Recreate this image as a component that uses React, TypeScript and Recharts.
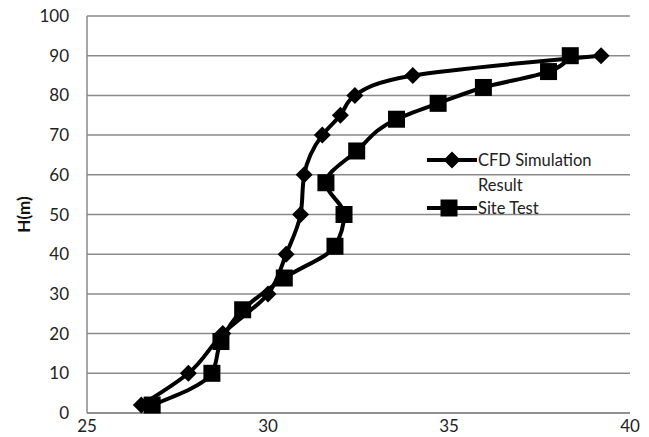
import { ScatterChart, Scatter, XAxis, YAxis, CartesianGrid } from 'recharts';

const cfdTemp = [26.5, 27.8, 28.75, 30.0, 30.5, 30.9, 31.0, 31.5, 32.0, 32.4, 34.0, 39.2];
const cfdHeight = [2, 10, 20, 30, 40, 50, 60, 70, 75, 80, 85, 90];
const siteTemp = [26.8, 28.45, 28.7, 29.3, 30.45, 31.85, 32.1, 31.6, 32.45, 33.55, 34.7, 35.95, 37.75, 38.35];
const siteHeight = [2, 10, 18, 26, 34, 42, 50, 58, 66, 74, 78, 82, 86, 90];
const xTicks = [25, 30, 35, 40];
const yTicks = [0, 10, 20, 30, 40, 50, 60, 70, 80, 90, 100];

const cfdData = cfdTemp.map((t, i) => ({ t, h: cfdHeight[i] }));
const siteData = siteTemp.map((t, i) => ({ t, h: siteHeight[i] }));

const FONT = 'Lato, "Open Sans", sans-serif';
const GRID = '#8a8a8a';

const Diamond = (props: any) => {
  const { cx, cy } = props;
  const r = 8.5;
  return <polygon points={`${cx},${cy - r} ${cx + r},${cy} ${cx},${cy + r} ${cx - r},${cy}`} fill="#000" />;
};

const Square = (props: any) => {
  const { cx, cy } = props;
  const r = 8.5;
  return <rect x={cx - r} y={cy - r} width={r * 2} height={r * 2} fill="#000" />;
};

// legend drawn on its own, so the chart keeps its full plot height
const LegendBox = () => (
  <svg
    width={180}
    height={72}
    style={{ position: 'absolute', left: 425, top: 148, fontFamily: FONT, fontSize: 16.5 }}
  >
    <line x1={2} y1={12} x2={52} y2={12} stroke="#000" strokeWidth={4} />
    <Diamond cx={27} cy={12} />
    <text x={53} y={18} fill="#222">CFD Simulation</text>
    <text x={53} y={43} fill="#222">Result</text>
    <line x1={2} y1={60} x2={52} y2={60} stroke="#000" strokeWidth={4} />
    <Square cx={24} cy={60} />
    <text x={53} y={66} fill="#222">Site Test</text>
  </svg>
);

const YLabel = (props: any) => {
  const { viewBox } = props;
  const y = viewBox.y + viewBox.height / 2;
  return (
    <text
      x={30}
      y={y}
      transform={`rotate(-90, 30, ${y})`}
      textAnchor="middle"
      fontFamily={FONT}
      fontWeight="bold"
      fontSize={17}
      fill="#111"
    >
      H(m)
    </text>
  );
};

export default function App() {
  return (
    <div style={{ position: 'absolute', left: 0, top: 0, width: 649, height: 437, background: '#fff' }}>
      <ScatterChart width={649} height={437} margin={{ top: 16, right: 19, bottom: 0, left: 0 }}>
        <CartesianGrid vertical={false} stroke={GRID} strokeWidth={1.5} />
        <XAxis
          type="number"
          dataKey="t"
          domain={[25, 40]}
          ticks={xTicks}
          height={24}
          tickLine={false}
          axisLine={{ stroke: GRID, strokeWidth: 1.5 }}
          tick={{ fontSize: 17, fontFamily: FONT, fill: '#222' }}
          tickMargin={1}
        />
        <YAxis
          type="number"
          dataKey="h"
          domain={[0, 100]}
          ticks={yTicks}
          width={87}
          tickLine={false}
          axisLine={{ stroke: GRID, strokeWidth: 1.5 }}
          tick={{ fontSize: 17, fontFamily: FONT, fill: '#222' }}
          tickMargin={12}
          label={<YLabel />}
        />
        <Scatter
          name="CFD Simulation Result"
          data={cfdData}
          shape={<Diamond />}
          line={{ stroke: '#000', strokeWidth: 4 }}
          lineJointType="monotoneY"
          isAnimationActive={false}
        />
        <Scatter
          name="Site Test"
          data={siteData}
          shape={<Square />}
          line={{ stroke: '#000', strokeWidth: 4 }}
          lineJointType="monotoneY"
          isAnimationActive={false}
        />
      </ScatterChart>
      <LegendBox />
    </div>
  );
}
